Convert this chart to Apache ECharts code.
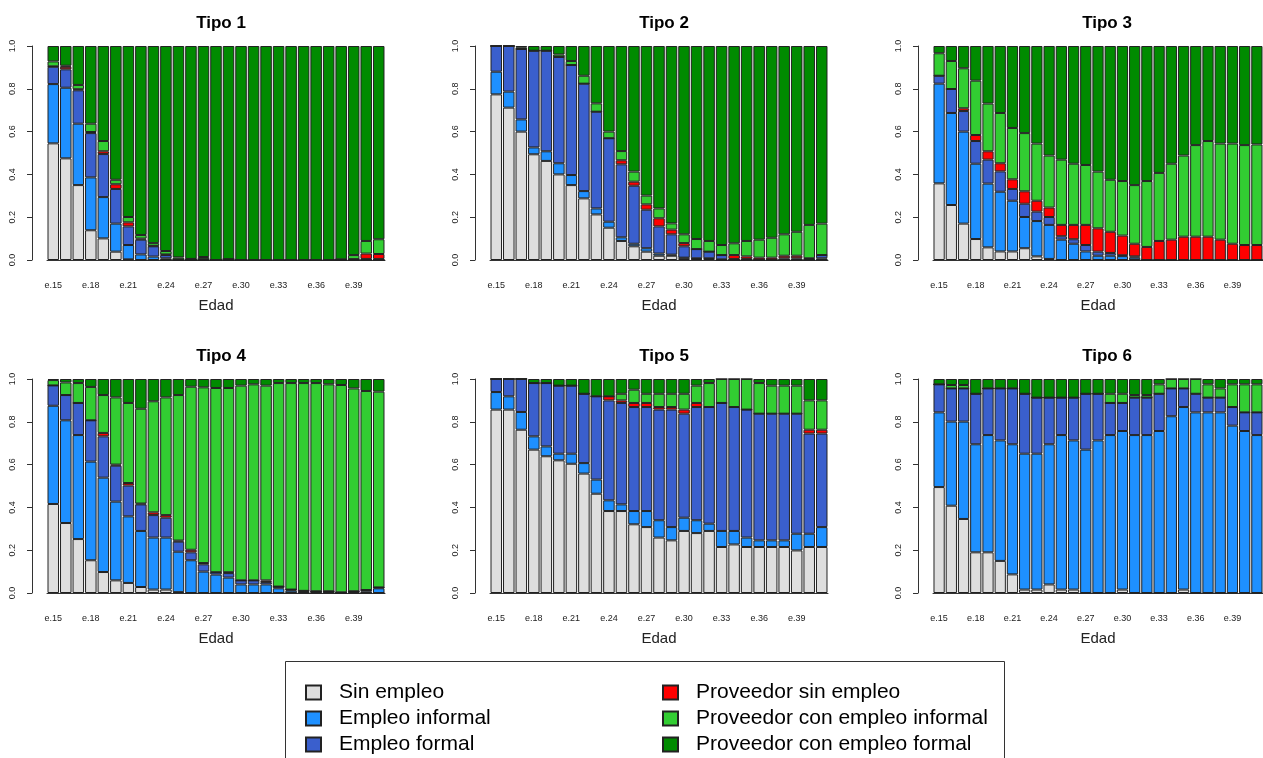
<!DOCTYPE html>
<html>
<head>
<meta charset="utf-8">
<script src="https://cdn.jsdelivr.net/npm/echarts@6/dist/echarts.min.js"></script>
<style>
html,body{margin:0;padding:0;background:#fff;}
#chart{width:1263px;height:758px;}
</style>
</head>
<body>
<div id="chart"></div>
<script>
const categories = ['e.15','e.16','e.17','e.18','e.19','e.20','e.21','e.22','e.23','e.24','e.25','e.26','e.27','e.28','e.29','e.30','e.31','e.32','e.33','e.34','e.35','e.36','e.37','e.38','e.39','e.40','e.41'];
const stateNames = ['Sin empleo','Empleo informal','Empleo formal','Proveedor sin empleo','Proveedor con empleo informal','Proveedor con empleo formal'];
const stateColors = ['#DEDEDE','#1E90FF','#3A5FCD','#FF0000','#32CD32','#008B00'];
const panelTitles = ['Tipo 1','Tipo 2','Tipo 3','Tipo 4','Tipo 5','Tipo 6'];

// Tipo 1
const sin1  = [.545,.475,.350,.139,.101,.039,.003,0,0,0,0,0,0,0,0,0,0,0,0,0,0,0,0,0,0,0,0];
const inf1  = [.277,.330,.287,.247,.193,.131,.067,.026,.016,.008,0,0,0,0,0,0,0,0,0,0,0,0,0,0,0,0,0];
const for1  = [.081,.086,.156,.207,.201,.162,.087,.069,.048,.015,.003,.003,.004,0,.004,0,0,0,0,0,0,0,0,.003,.004,.005,.005];
const psin1 = [.002,.012,.005,.005,.013,.022,.019,.005,.002,.003,0,0,0,0,0,0,0,0,0,0,0,0,0,0,0,.025,.023];
const pinf1 = [.023,.005,.020,.039,.048,.021,.025,.017,.013,.016,.009,.002,.010,0,0,0,0,0,0,0,0,0,0,0,.019,.059,.069];
const pfor1 = [.072,.092,.182,.363,.444,.625,.799,.883,.921,.958,.988,.995,.986,1,.996,1,1,1,1,1,1,1,1,.997,.977,.911,.903];

// Tipo 2
const sin2  = [.774,.712,.600,.494,.463,.400,.350,.288,.213,.151,.089,.064,.039,.020,.020,.008,.005,.005,0,0,0,0,0,0,0,0,0];
const inf2  = [.106,.075,.057,.032,.045,.052,.047,.034,.028,.028,.017,.012,.016,.010,.005,.003,.003,.003,.003,0,0,0,0,0,0,0,.008];
const for2  = [.120,.213,.329,.452,.470,.497,.514,.502,.452,.390,.341,.271,.180,.127,.095,.053,.043,.031,.020,.005,.005,.002,.002,.008,.008,.005,.015];
const psin2 = [0,0,0,0,0,0,0,0,0,0,.019,.019,.025,.038,.022,.015,0,0,0,.018,.012,.009,.009,.012,.012,.003,0];
const pinf2 = [0,0,.006,0,0,.011,.019,.037,.039,.031,.043,.047,.041,.046,.029,.041,.047,.050,.047,.055,.072,.084,.093,.100,.112,.156,.147];
const pfor2 = [0,0,.008,.022,.022,.040,.070,.139,.268,.400,.491,.587,.699,.759,.829,.880,.902,.911,.930,.922,.911,.905,.896,.880,.868,.836,.830];

// Tipo 3
const sin3  = [.358,.257,.170,.098,.059,.040,.040,.055,.017,.005,0,0,0,0,0,0,0,0,0,0,0,0,0,0,0,0,0];
const inf3  = [.466,.430,.430,.352,.298,.279,.237,.146,.165,.159,.095,.076,.040,.020,.020,.018,.011,0,0,0,0,0,0,0,0,0,0];
const for3  = [.037,.112,.096,.106,.112,.095,.055,.062,.044,.037,.016,.021,.030,.019,.013,.004,.006,0,0,0,0,0,0,0,0,0,0];
const psin3 = [0,0,.013,.028,.039,.038,.045,.058,.051,.044,.053,.067,.094,.109,.099,.092,.059,.061,.089,.095,.109,.109,.109,.095,.076,.070,.070];
const pinf3 = [.105,.131,.187,.254,.223,.235,.240,.272,.267,.243,.305,.286,.280,.265,.243,.255,.274,.308,.318,.355,.379,.428,.447,.449,.468,.467,.470];
const pfor3 = [.034,.070,.104,.162,.269,.313,.383,.407,.456,.512,.531,.550,.556,.587,.625,.631,.650,.631,.593,.550,.512,.463,.444,.456,.456,.463,.460];

// Tipo 4
const sin4  = [.416,.327,.252,.153,.098,.059,.047,.028,.016,.016,.004,0,0,0,0,0,0,0,0,0,0,0,0,0,0,0,0];
const inf4  = [.459,.480,.486,.461,.441,.368,.311,.262,.243,.243,.189,.153,.100,.086,.072,.040,.040,.040,.022,.011,.006,.006,.006,0,.006,.008,.022];
const for4  = [.095,.118,.150,.193,.193,.168,.144,.124,.105,.093,.047,.037,.034,.011,.021,.019,.019,.011,.008,.005,.004,.002,.002,.003,.002,.006,.004];
const psin4 = [0,0,0,0,.016,.005,.012,.004,.013,.012,.005,.012,.006,0,.004,0,0,.008,0,0,0,0,0,0,0,0,0];
const pinf4 = [.025,.059,.093,.156,.177,.314,.374,.443,.519,.550,.680,.762,.821,.861,.861,.910,.916,.910,.951,.965,.971,.973,.967,.969,.948,.930,.915];
const pfor4 = [.005,.016,.019,.037,.075,.086,.112,.139,.104,.086,.075,.036,.039,.042,.042,.031,.025,.031,.019,.019,.019,.019,.025,.028,.044,.056,.059];

// Tipo 5
const sin5  = [.857,.857,.763,.670,.639,.620,.604,.558,.464,.383,.383,.321,.308,.259,.246,.290,.280,.290,.215,.227,.215,.215,.215,.215,.199,.215,.215];
const inf5  = [.082,.062,.083,.062,.046,.031,.047,.049,.066,.050,.031,.062,.075,.081,.062,.062,.060,.034,.075,.063,.044,.031,.031,.031,.078,.062,.093];
const for5  = [.061,.081,.154,.249,.296,.318,.318,.324,.389,.467,.474,.486,.486,.517,.549,.486,.529,.545,.598,.579,.598,.592,.592,.592,.561,.468,.437];
const psin5 = [0,0,0,0,0,0,0,0,0,.019,.012,.019,.019,.012,.012,.019,.019,0,0,0,0,0,0,0,0,.018,.018];
const pinf5 = [0,0,0,0,0,0,0,0,0,0,.031,.062,.043,.062,.062,.074,.081,.112,.112,.131,.143,.143,.131,.131,.131,.137,.137];
const pfor5 = [0,0,0,.019,.019,.031,.031,.069,.081,.081,.069,.050,.069,.069,.069,.069,.031,.019,0,0,0,.019,.031,.031,.031,.100,.100];

// Tipo 6
const sin6  = [.495,.408,.346,.190,.190,.150,.087,.016,.016,.040,.016,.016,0,0,0,.016,0,0,0,0,.016,0,0,0,0,0,0];
const inf6  = [.349,.393,.455,.505,.548,.563,.608,.635,.635,.655,.722,.697,.670,.713,.738,.741,.738,.738,.757,.826,.853,.844,.844,.844,.782,.757,.738];
const for6  = [.131,.155,.155,.236,.218,.243,.261,.280,.262,.218,.175,.200,.261,.218,.150,.131,.175,.175,.174,.130,.087,.087,.069,.069,.087,.087,.106];
const psin6 = [0,0,0,0,0,0,0,0,0,0,0,0,0,0,0,0,0,0,0,0,0,0,0,0,0,0,0];
const pinf6 = [0,.016,.016,0,0,0,0,0,0,0,0,0,0,0,.043,.043,.012,.012,.044,.044,.044,.069,.062,.043,.106,.131,.131];
const pfor6 = [.025,.028,.028,.069,.044,.044,.044,.069,.087,.087,.087,.087,.069,.069,.069,.069,.075,.075,.025,0,0,0,.025,.044,.025,.025,.025];

const panels = [
  [sin1,inf1,for1,psin1,pinf1,pfor1],
  [sin2,inf2,for2,psin2,pinf2,pfor2],
  [sin3,inf3,for3,psin3,pinf3,pfor3],
  [sin4,inf4,for4,psin4,pinf4,pfor4],
  [sin5,inf5,for5,psin5,pinf5,pfor5],
  [sin6,inf6,for6,psin6,pinf6,pfor6]
];

const FONT = 'Liberation Sans, Arial, sans-serif';
const colLeft = [47, 490, 933];
const rowTop = [46, 379];
const W = 338, H = 214;

const grids = [], xAxes = [], yAxes = [], titles = [], series = [];
panels.forEach((p, i) => {
  const c = i % 3, r = Math.floor(i / 3);
  grids.push({left: colLeft[c], top: rowTop[r], width: W, height: H});
  titles.push({
    text: panelTitles[i], left: colLeft[c] + W / 2, top: rowTop[r] - 36, textAlign: 'center',
    textStyle: {fontFamily: FONT, fontSize: 17, fontWeight: 'bold', color: '#000'}
  });
  xAxes.push({
    type: 'category', gridIndex: i, data: categories, offset: 6,
    axisLine: {lineStyle: {color: '#333', width: 1}},
    axisTick: {alignWithLabel: true, interval: 0, length: 5, lineStyle: {color: '#333'}},
    axisLabel: {interval: 2, fontSize: 9, margin: 15, color: '#222', fontFamily: FONT},
    name: 'Edad', nameLocation: 'middle', nameGap: 32,
    nameTextStyle: {fontSize: 15, color: '#222', fontFamily: FONT}
  });
  yAxes.push({
    type: 'value', gridIndex: i, min: 0, max: 1, interval: 0.2, offset: 15,
    axisLine: {show: true, lineStyle: {color: '#333', width: 1}},
    axisTick: {show: true, length: 5, lineStyle: {color: '#333'}},
    splitLine: {show: false},
    axisLabel: {rotate: 90, fontSize: 9, margin: 15, color: '#222', fontFamily: FONT,
      align: 'center', verticalAlign: 'bottom', formatter: v => v.toFixed(1)}
  });
  p.forEach((vals, s) => {
    series.push({
      type: 'bar', name: stateNames[s], stack: 'p' + i, xAxisIndex: i, yAxisIndex: i,
      data: vals, barCategoryGap: '8%',
      itemStyle: {color: stateColors[s], borderColor: '#222', borderWidth: 1},
      emphasis: {disabled: true}
    });
  });
});

const legendLeft = [305, 305, 305, 662, 662, 662];
const legendTop = [682, 708, 734, 682, 708, 734];
const legends = stateNames.map((n, k) => ({
  data: [n], left: legendLeft[k], top: legendTop[k], padding: 0,
  itemWidth: 15, itemHeight: 14, icon: 'rect', selectedMode: false,
  textStyle: {fontSize: 21, lineHeight: 20, color: '#000', fontFamily: FONT, padding: [0, 0, 0, 13]}
}));

const chart = echarts.init(document.getElementById('chart'));
chart.setOption({
  backgroundColor: '#fff',
  animation: false,
  textStyle: {fontFamily: FONT},
  title: titles,
  grid: grids,
  xAxis: xAxes,
  yAxis: yAxes,
  series: series,
  legend: legends,
  graphic: [{
    type: 'rect', silent: true,
    shape: {x: 285.5, y: 661.5, width: 719, height: 110},
    style: {fill: 'none', stroke: '#333', lineWidth: 1}
  }]
});
</script>
</body>
</html>
